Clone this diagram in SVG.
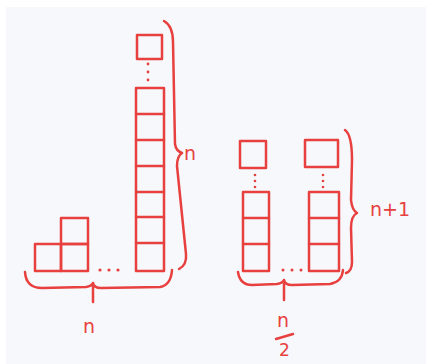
<svg xmlns="http://www.w3.org/2000/svg" width="426" height="364" viewBox="0 0 426 364">
<style>
.s{fill:none;stroke:#e8403e;stroke-width:2.5;stroke-linecap:round;stroke-linejoin:round}
.d{fill:#e8403e}
.t{fill:#e8403e;font-family:"DejaVu Sans",sans-serif;font-size:19px}
</style>
<rect width="426" height="364" fill="#ffffff"/>
<rect x="6" y="7" width="420" height="357" fill="#f6f8fc"/>
<g id="left-group">
  <g id="small-blocks">
    <rect class="s" x="35" y="244" width="26" height="27"/>
    <rect class="s" x="61" y="244" width="27" height="27"/>
    <rect class="s" x="61" y="218" width="27" height="26"/>
  </g>
  <g id="bottom-dots">
    <circle class="d" cx="100" cy="270" r="1.6"/>
    <circle class="d" cx="109" cy="270" r="1.6"/>
    <circle class="d" cx="118" cy="270" r="1.6"/>
  </g>
  <g id="tall-column">
    <rect class="s" x="137" y="35" width="25" height="24"/>
    <circle class="d" cx="148" cy="64" r="1.4"/>
    <circle class="d" cx="148" cy="72" r="1.4"/>
    <circle class="d" cx="148" cy="80" r="1.4"/>
    <rect class="s" x="136" y="88" width="28" height="183"/>
    <path class="s" d="M136,114H164M136,140H164M136,166H164M136,192H164M136,217H164M136,243H164"/>
  </g>
  <g id="brace-n-right">
    <path class="s" d="M164,21 Q173,26 173,42 L175,144 Q176,151 182,153 Q177,156 177,166 L186,254 Q187,265 179,269"/>
    <text class="t" x="184" y="160">n</text>
  </g>
  <g id="brace-n-bottom">
    <path class="s" d="M25,272 Q26,288 42,288 L86,287 Q92,286 93,283 Q94,288 101,288 L160,287 Q171,285 172,270 M93,286 L93,302"/>
    <text class="t" x="83" y="333">n</text>
  </g>
</g>
<g id="right-group">
  <g id="column-a">
    <rect class="s" x="240" y="141" width="26" height="27"/>
    <circle class="d" cx="255" cy="175" r="1.3"/>
    <circle class="d" cx="255" cy="181" r="1.3"/>
    <circle class="d" cx="255" cy="187" r="1.3"/>
    <rect class="s" x="243" y="192" width="26" height="79"/>
    <path class="s" d="M243,218H269M243,244H269"/>
  </g>
  <g id="right-dots">
    <circle class="d" cx="283" cy="270" r="1.5"/>
    <circle class="d" cx="292" cy="270" r="1.5"/>
    <circle class="d" cx="301" cy="270" r="1.5"/>
  </g>
  <g id="column-b">
    <rect class="s" x="305" y="140" width="33" height="27"/>
    <circle class="d" cx="323" cy="175" r="1.3"/>
    <circle class="d" cx="323" cy="181" r="1.3"/>
    <circle class="d" cx="323" cy="187" r="1.3"/>
    <rect class="s" x="309" y="192" width="30" height="79"/>
    <path class="s" d="M309,218H339M309,244H339"/>
  </g>
  <g id="brace-n-plus-1">
    <path class="s" d="M345,130 Q352,135 352,160 L351,200 Q352,210 357,213 Q351,216 351,228 L352,262 Q352,271 346,273"/>
    <text class="t" x="370" y="216">n+1</text>
  </g>
  <g id="brace-n-half">
    <path class="s" d="M238,272 Q240,285 252,285 L277,284 Q283,283 284,280 Q285,285 292,285 L330,284 Q342,282 343,270 M284,284 L284,300"/>
    <text class="t" x="277" y="327">n</text>
    <path class="s" d="M276,339 L293,334"/>
    <text class="t" x="279" y="356" style="font-size:17px">2</text>
  </g>
</g>
</svg>
